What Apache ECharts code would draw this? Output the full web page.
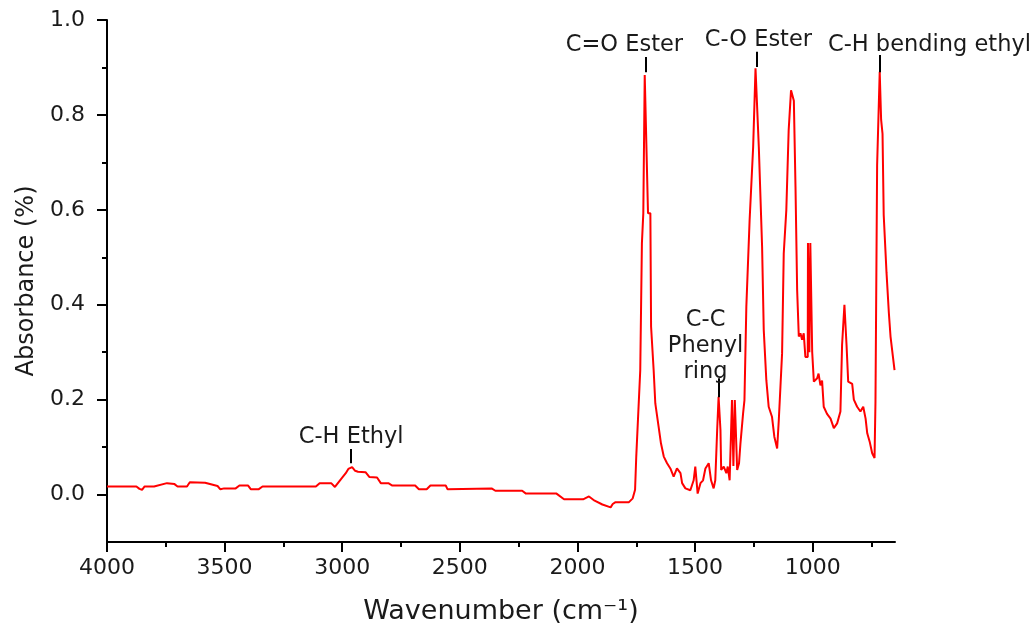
<!DOCTYPE html>
<html><head><meta charset="utf-8">
<script src="https://cdn.jsdelivr.net/npm/echarts@6/dist/echarts.min.js"></script>
<style>html,body{margin:0;padding:0;background:#fff}#c{width:1034px;height:628px}</style>
</head><body><div id="c"></div>
<script>
// Spectrum
const wavenumbers = [4000,3875,3862,3851,3840,3800,3745,3713,3700,3660,3648,3583,3530,3518,3502,3453,3437,3400,3388,3356,3339,3112,3096,3047,3031,3006,2985,2974,2958,2945,2933,2901,2885,2852,2836,2804,2787,2690,2674,2641,2625,2560,2552,2544,2365,2349,2235,2219,2089,2057,1976,1951,1927,1894,1859,1850,1838,1781,1765,1755,
  1750,1733,1726,1720,1714,1706,1700,1690,1687,1676,
  1669,1655,1645,1633,1619,1605,1591,1577,1562,1555,
  1541,1520,1506,1499,1489,1477,1466,1456,1442,1432,
  1421,1414,1406,1400,1392,1389,1378,1367,1361,1353,
  1343,1337,1331,1321,1313,1307,1296,1290,1282,1268,
  1253,1243,1239,1229,1215,1208,1197,1187,1173,1163,
  1151,1144,1137,1130,1123,1112,1102,1092,1086,1080,
  1073,1066,1059,1052,1045,1038,1031,1021,1020,1014,
  1010,1004,1002,995,981,975,967,960,953,939,
  924,910,896,882,875,865,856,849,832,825,
  811,797,785,775,768,757,747,737,733,726,
  715,712,709,703,698,686,676,669,659,652];
const absorbance = [0.017,0.017,0.012,0.010,0.017,0.017,0.024,0.022,0.017,0.017,0.026,0.025,0.018,0.011,0.013,0.013,0.019,0.019,0.011,0.011,0.017,0.017,0.024,0.024,0.016,0.032,0.045,0.054,0.058,0.050,0.048,0.047,0.037,0.036,0.024,0.024,0.019,0.019,0.011,0.011,0.019,0.019,0.011,0.014,0.013,0.008,0.008,0.002,0.002,-0.010,-0.010,-0.004,-0.013,-0.021,-0.027,-0.020,-0.016,-0.016,-0.008,0.010,
  0.080,0.262,0.529,0.593,0.884,0.884,0.593,0.593,0.354,0.262,
  0.192,0.143,0.108,0.080,0.066,0.055,0.038,0.055,0.045,0.024,
  0.013,0.009,0.030,0.059,0.002,0.024,0.030,0.055,0.066,0.030,
  0.013,0.030,0.136,0.206,0.136,0.052,0.059,0.045,0.059,0.030,
  0.199,0.060,0.199,0.052,0.066,0.108,0.170,0.199,0.396,0.579,
  0.733,0.898,0.898,0.733,0.522,0.347,0.241,0.185,0.164,0.122,
  0.097,0.157,0.227,0.298,0.508,0.600,0.768,0.852,0.852,0.830,
  0.648,0.431,0.333,0.340,0.326,0.340,0.290,0.290,0.530,0.300,
  0.530,0.530,0.300,0.238,0.245,0.255,0.230,0.240,0.185,0.170,
  0.160,0.140,0.150,0.175,0.315,0.400,0.315,0.238,0.233,0.200,
  0.185,0.175,0.185,0.160,0.129,0.110,0.087,0.077,0.196,0.694,
  0.891,0.891,0.790,0.760,0.589,0.467,0.382,0.333,0.291,0.262];

// Axis ticks
const xMajorTicks = [4000,3500,3000,2500,2000,1500,1000];
const xMinorTicks = [3750,3250,2750,2250,1750,1250,750];
const yMajorTicks = [0,0.2,0.4,0.6,0.8,1.0];
const yMinorTicks = [0.1,0.3,0.5,0.7,0.9];

// Annotations
const annotationLabels = ['C-H Ethyl','C=O Ester','C-C\nPhenyl\nring','C-O Ester','C-H bending ethyl'];
const annotationWavenumbers = [2962,1711,1400,1239,716];
const annotationTickLow = [0.066,0.890,0.205,0.901,0.890];
const annotationTickHigh = [0.096,0.922,0.245,0.933,0.926];

// label placement (styling)
const labelOffsets = [[0,0],[-21,0],[-13,7],[2,0],[50,2]];
const labelLineHeights = [24,24,26,24,24];

const FONT = 'DejaVu Sans';
const TXT = '#1a1a1a';

const chart = echarts.init(document.getElementById('c'), null, {renderer:'canvas'});
chart.setOption({
  animation:false,
  backgroundColor:'#fff',
  grid:{left:107,right:139,top:20,bottom:86,outerBoundsMode:'none'},
  xAxis:[{
    type:'value',min:650,max:4000,inverse:true,
    axisLine:{show:true,onZero:false,lineStyle:{color:'#000',width:2}},
    axisTick:{show:true,length:10,lineStyle:{color:'#000',width:2},customValues:xMajorTicks},
    axisLabel:{show:true,customValues:xMajorTicks,fontSize:22,fontFamily:FONT,color:TXT,margin:15,
      formatter:function(v){return String(v);}},
    splitLine:{show:false},
    name:'Wavenumber (cm\u207B\u00B9)',nameLocation:'middle',nameGap:56,
    nameTextStyle:{fontSize:27,fontFamily:FONT,color:TXT}
  },{
    type:'value',min:650,max:4000,inverse:true,position:'bottom',
    axisLine:{show:false,onZero:false},
    axisTick:{show:true,length:5,lineStyle:{color:'#000',width:2},customValues:xMinorTicks},
    axisLabel:{show:false},
    splitLine:{show:false}
  }],
  yAxis:[{
    type:'value',min:-0.1,max:1.0,
    axisLine:{show:true,onZero:false,lineStyle:{color:'#000',width:2}},
    axisTick:{show:true,length:10,lineStyle:{color:'#000',width:2},customValues:yMajorTicks},
    axisLabel:{show:true,customValues:yMajorTicks,fontSize:22,fontFamily:FONT,color:TXT,margin:22,
      formatter:function(v){return Number(v).toFixed(1);}},
    splitLine:{show:false},
    name:'Absorbance (%)',nameLocation:'middle',nameGap:68,
    nameTextStyle:{fontSize:24,fontFamily:FONT,color:TXT}
  },{
    type:'value',min:-0.1,max:1.0,position:'left',
    axisLine:{show:false,onZero:false},
    axisTick:{show:true,length:5,lineStyle:{color:'#000',width:2},customValues:yMinorTicks},
    axisLabel:{show:false},
    splitLine:{show:false}
  }],
  series:[{
    type:'line',
    xAxisIndex:0,yAxisIndex:0,
    data:wavenumbers.map(function(w,i){return [w,absorbance[i]];}),
    showSymbol:false,
    lineStyle:{color:'#ff0000',width:2},
    itemStyle:{color:'#ff0000'},
    markLine:{
      silent:true,symbol:['none','none'],
      lineStyle:{color:'#000',width:2,type:'solid'},
      label:{show:false},
      data:annotationWavenumbers.map(function(w,i){
        return [{coord:[w,annotationTickLow[i]]},{coord:[w,annotationTickHigh[i]]}];
      })
    },
    markPoint:{
      silent:true,symbol:'circle',symbolSize:0,
      data:annotationWavenumbers.map(function(w,i){
        return {coord:[w,annotationTickHigh[i]],value:annotationLabels[i],
          label:{show:true,position:'top',distance:0,offset:labelOffsets[i],
            formatter:annotationLabels[i],fontSize:22.5,fontFamily:FONT,color:TXT,
            lineHeight:labelLineHeights[i],align:'center'}};
      })
    }
  }]
});
</script></body></html>
